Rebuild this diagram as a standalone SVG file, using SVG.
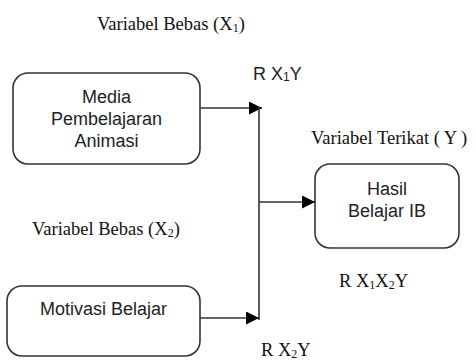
<svg xmlns="http://www.w3.org/2000/svg" width="476" height="361" viewBox="0 0 476 361">
<style>
.box{fill:#fff;stroke:#333;stroke-width:1.6}
.sans{font-family:"Liberation Sans",Arial,sans-serif;font-size:18px;fill:#222}
.serif{font-family:"Liberation Serif","Times New Roman",serif;font-size:18.5px;fill:#111}
.sub{font-size:12px}
.conn{fill:none;stroke:#333;stroke-width:1.6}
</style>
<defs>
<marker id="arr" markerUnits="userSpaceOnUse" markerWidth="13" markerHeight="13" refX="13" refY="6.5" orient="auto">
<path d="M0,0 L13,6.5 L0,13 z" fill="#000"/>
</marker>
</defs>
<rect width="476" height="361" fill="#fff"/>
<g id="labels">
<text class="serif" x="97" y="30">Variabel Bebas (X<tspan class="sub" dy="2">1</tspan><tspan dy="-2">)</tspan></text>
<text class="sans" x="253" y="80">R X<tspan class="sub" dy="1">1</tspan><tspan dy="-1">Y</tspan></text>
<text class="serif" x="311" y="144">Variabel Terikat ( Y )</text>
<text class="serif" x="32" y="235">Variabel Bebas (X<tspan class="sub" dy="2">2</tspan><tspan dy="-2">)</tspan></text>
<text class="serif" x="339" y="287">R X<tspan class="sub" dy="2">1</tspan><tspan dy="-2">X</tspan><tspan class="sub" dy="2">2</tspan><tspan dy="-2">Y</tspan></text>
<text class="serif" x="261" y="356">R X<tspan class="sub" dy="2">2</tspan><tspan dy="-2">Y</tspan></text>
</g>
<g id="node-media">
<rect class="box" x="13" y="73" width="187" height="91" rx="15"/>
<text class="sans" text-anchor="middle" x="106.5" y="103">Media</text>
<text class="sans" text-anchor="middle" x="106.5" y="125">Pembelajaran</text>
<text class="sans" text-anchor="middle" x="106.5" y="147">Animasi</text>
</g>
<g id="node-motivasi">
<rect class="box" x="7" y="286" width="193" height="70" rx="15"/>
<text class="sans" text-anchor="middle" x="103.5" y="315">Motivasi Belajar</text>
</g>
<g id="node-hasil">
<rect class="box" x="315" y="164" width="144" height="84" rx="15"/>
<text class="sans" text-anchor="middle" x="387" y="195">Hasil</text>
<text class="sans" text-anchor="middle" x="387" y="217">Belajar IB</text>
</g>
<g id="connectors">
<path class="conn" d="M200,108 H262" marker-end="url(#arr)"/>
<path class="conn" d="M200,318 H259" marker-end="url(#arr)"/>
<path class="conn" d="M259,107 V320"/>
<path class="conn" d="M259,202 H315" marker-end="url(#arr)"/>
</g>
</svg>
